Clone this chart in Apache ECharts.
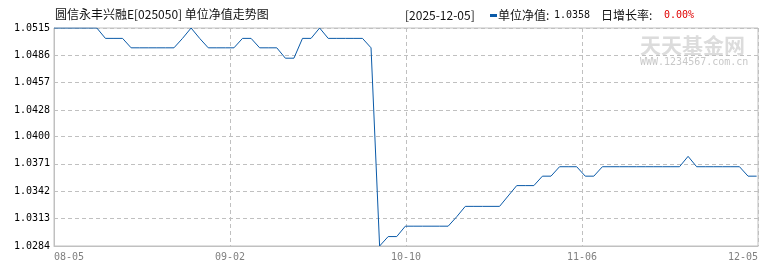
<!DOCTYPE html>
<html><head><meta charset="utf-8">
<script src="https://cdn.jsdelivr.net/npm/echarts@6/dist/echarts.min.js"></script>
<style>html,body{margin:0;padding:0;background:#fff}#c{width:770px;height:270px}</style>
</head><body><div id="c"></div>
<script>
// ---- data ----
const dates = [
 '2025-08-05','2025-08-06','2025-08-07','2025-08-08','2025-08-11','2025-08-12','2025-08-13','2025-08-14','2025-08-15',
 '2025-08-18','2025-08-19','2025-08-20','2025-08-21','2025-08-22','2025-08-25','2025-08-26','2025-08-27','2025-08-28','2025-08-29',
 '2025-09-01','2025-09-02','2025-09-03','2025-09-04','2025-09-05','2025-09-08','2025-09-09','2025-09-10','2025-09-11','2025-09-12',
 '2025-09-15','2025-09-16','2025-09-17','2025-09-18','2025-09-19','2025-09-22','2025-09-23','2025-09-24','2025-09-25','2025-09-26',
 '2025-09-29','2025-09-30','2025-10-09','2025-10-10','2025-10-13','2025-10-14','2025-10-15','2025-10-16','2025-10-17',
 '2025-10-20','2025-10-21','2025-10-22','2025-10-23','2025-10-24','2025-10-27','2025-10-28','2025-10-29','2025-10-30','2025-10-31',
 '2025-11-03','2025-11-04','2025-11-05','2025-11-06','2025-11-07','2025-11-10','2025-11-11','2025-11-12','2025-11-13','2025-11-14',
 '2025-11-17','2025-11-18','2025-11-19','2025-11-20','2025-11-21','2025-11-24','2025-11-25','2025-11-26','2025-11-27','2025-11-28',
 '2025-12-01','2025-12-02','2025-12-03','2025-12-04','2025-12-05'
];
const navValues = [
 1.0515,1.0515,1.0515,1.0515,1.0515,1.0515,1.0504,1.0504,1.0504,
 1.0494,1.0494,1.0494,1.0494,1.0494,1.0494,1.0504,1.0515,1.0504,1.0494,
 1.0494,1.0494,1.0494,1.0504,1.0504,1.0494,1.0494,1.0494,1.0483,1.0483,
 1.0504,1.0504,1.0515,1.0504,1.0504,1.0504,1.0504,1.0504,1.0494,1.0284,
 1.0294,1.0294,1.0305,1.0305,1.0305,1.0305,1.0305,1.0305,1.0315,
 1.0326,1.0326,1.0326,1.0326,1.0326,1.0337,1.0348,1.0348,1.0348,1.0358,
 1.0358,1.0368,1.0368,1.0368,1.0358,1.0358,1.0368,1.0368,1.0368,1.0368,
 1.0368,1.0368,1.0368,1.0368,1.0368,1.0368,1.0379,1.0368,1.0368,1.0368,
 1.0368,1.0368,1.0368,1.0358,1.0358
];
const xTickLabels = ['08-05','09-02','10-10','11-06','12-05'];
const yTickLabels = ['1.0284','1.0313','1.0342','1.0371','1.0400','1.0428','1.0457','1.0486','1.0515'];
const chartTitle = '圆信永丰兴融E[025050] 单位净值走势图';
const seriesName = '单位净值';
const lastDate = '2025-12-05';
const lastNav = '1.0358';
const growthLabel = '日增长率:';
const dailyGrowth = '0.00%';
const watermark = '天天基金网';
const watermarkUrl = 'WWW.1234567.com.cn';

// ---- layout ----
const X_STEP = 20.54, X_MAX = X_STEP * 4;
const LINE_COLOR = '#0a5aa8';
const GRID_COLOR = '#c0c0c0';
const MONO = '"DejaVu Sans Mono", monospace';
const CJK = '"Noto Sans CJK SC", sans-serif';

const chart = echarts.init(document.getElementById('c'), null, {renderer: 'canvas'});
chart.setOption({
  animation: false,
  backgroundColor: '#fff',
  grid: {left: 54, right: 12, top: 28, bottom: 24, show: true, borderColor: GRID_COLOR, borderWidth: 1},
  xAxis: {
    type: 'value', min: 0, max: X_MAX, interval: X_STEP,
    axisLine: {show: true, lineStyle: {color: GRID_COLOR}},
    axisTick: {show: false},
    splitLine: {show: true, lineStyle: {color: GRID_COLOR, type: [4, 3]}},
    axisLabel: {
      color: '#808080', fontFamily: 'DejaVu Sans Mono', fontSize: 10, margin: 6,
      alignMinLabel: 'left', alignMaxLabel: 'right',
      formatter: v => xTickLabels[Math.round(v / X_STEP)] || ''
    }
  },
  yAxis: {
    type: 'value',
    min: Number(yTickLabels[0]), max: Number(yTickLabels[yTickLabels.length - 1]),
    axisLine: {show: true, lineStyle: {color: GRID_COLOR}},
    axisTick: {show: false, customValues: yTickLabels.map(Number)},
    splitLine: {show: true, lineStyle: {color: GRID_COLOR, type: [4, 3]}},
    axisLabel: {
      customValues: yTickLabels.map(Number),
      color: '#000', fontFamily: 'DejaVu Sans Mono', fontSize: 10, margin: 4,
      formatter: v => v.toFixed(4)
    }
  },
  series: [{
    name: seriesName, type: 'line', showSymbol: false, symbol: 'none',
    lineStyle: {color: LINE_COLOR, width: 1},
    data: navValues.map((v, i) => [i, v])
  }],
  graphic: [
    {type: 'text', x: 55, y: 14, style: {text: chartTitle, font: '12px ' + CJK, fill: '#111', verticalAlign: 'middle'}},
    {type: 'text', x: 405, y: 15, style: {text: '[' + lastDate + ']', font: '12px ' + CJK, fill: '#111', verticalAlign: 'middle'}},
    {type: 'rect', shape: {x: 490, y: 14, width: 7, height: 3}, style: {fill: LINE_COLOR}},
    {type: 'text', x: 498, y: 15, style: {text: seriesName + ':', font: '12px ' + CJK, fill: '#111', verticalAlign: 'middle'}},
    {type: 'text', x: 554, y: 15, style: {text: lastNav, font: '10px ' + MONO, fill: '#111', verticalAlign: 'middle'}},
    {type: 'text', x: 601, y: 15, style: {text: growthLabel, font: '12px ' + CJK, fill: '#111', verticalAlign: 'middle'}},
    {type: 'text', x: 664, y: 15, style: {text: dailyGrowth, font: '10px ' + MONO, fill: '#e00000', verticalAlign: 'middle'}},
    {type: 'text', x: 640, y: 45, style: {text: watermark, font: 'bold 21px ' + CJK, fill: '#dcdcdc', verticalAlign: 'middle'}},
    {type: 'text', x: 640, y: 62, style: {text: watermarkUrl, font: '10px ' + MONO, fill: '#c8c8c8', verticalAlign: 'middle'}}
  ]
});
</script>
</body></html>
